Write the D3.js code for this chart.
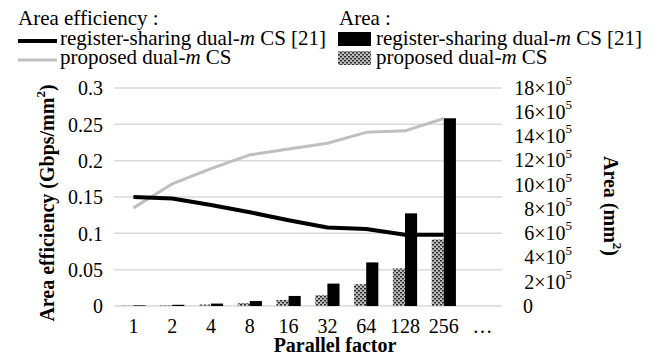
<!DOCTYPE html>
<html>
<head>
<meta charset="utf-8">
<script src="https://cdn.jsdelivr.net/npm/d3@7"></script>
<style>
  body { margin: 0; background: #fff; }
  text, tspan { font-family: "Liberation Serif", "Times New Roman", serif; fill: #000; }
</style>
</head>
<body>
<script>
// data
var categories = ["1", "2", "4", "8", "16", "32", "64", "128", "256", "…"];
var effShared = [0.150, 0.148, 0.139, 0.129, 0.118, 0.108, 0.106, 0.098, 0.098];
var effProposed = [0.135, 0.168, 0.189, 0.208, 0.216, 0.224, 0.239, 0.241, 0.258];
// area in units of 10^5 mm^2
var areaShared = [0.05, 0.1, 0.2, 0.41, 0.83, 1.85, 3.6, 7.65, 15.5];
var areaProposed = [0.03, 0.06, 0.12, 0.25, 0.5, 0.9, 1.8, 3.1, 5.5];
var effTicks = [0, 0.05, 0.1, 0.15, 0.2, 0.25, 0.3];
var areaTicks = [0, 2, 4, 6, 8, 10, 12, 14, 16, 18];

var svg_Width = 664;
var svg_Height = 360;
var plot = { left: 114, right: 502, top: 88, bottom: 306 };

var svg = d3.select("body")
  .append("svg")
  .attr("width", svg_Width)
  .attr("height", svg_Height);

// dotted fill for the proposed bars
var pat = svg.append("defs").append("pattern")
  .attr("id", "dots")
  .attr("patternUnits", "userSpaceOnUse")
  .attr("width", 4)
  .attr("height", 4);
pat.append("rect").attr("width", 4).attr("height", 4).attr("fill", "#bcbcbc");
pat.append("rect").attr("x", 0).attr("y", 0).attr("width", 2).attr("height", 1.5).attr("fill", "#2a2a2a");
pat.append("rect").attr("x", 2).attr("y", 2).attr("width", 2).attr("height", 1.5).attr("fill", "#2a2a2a");

// scales
var x0 = d3.scaleBand()
  .domain(categories)
  .range([plot.left, plot.right]);
var groupW = x0.bandwidth() / 1.6;
var x1 = d3.scaleBand()
  .domain(["proposed", "shared"])
  .range([0, groupW]);
var yEff = d3.scaleLinear().domain([0, 0.3]).range([plot.bottom, plot.top]);
var yArea = d3.scaleLinear().domain([0, 18]).range([plot.bottom, plot.top]);

// gridlines
svg.append("g")
  .selectAll("line")
  .data(effTicks)
  .enter()
  .append("line")
  .attr("x1", plot.left)
  .attr("x2", plot.right)
  .attr("y1", d => yEff(d))
  .attr("y2", d => yEff(d))
  .attr("stroke", "#d9d9d9")
  .attr("stroke-width", 1.5);

// bars
var barData = [];
categories.slice(0, areaShared.length).forEach(function (c, i) {
  barData.push({ cat: c, key: "proposed", v: areaProposed[i] });
  barData.push({ cat: c, key: "shared", v: areaShared[i] });
});
svg.append("g")
  .selectAll("rect")
  .data(barData)
  .enter()
  .append("rect")
  .attr("x", d => x0(d.cat) + (x0.bandwidth() - groupW) / 2 + x1(d.key))
  .attr("width", x1.bandwidth())
  .attr("y", d => yArea(d.v))
  .attr("height", d => yArea(0) - yArea(d.v))
  .attr("fill", d => d.key === "shared" ? "#000" : "url(#dots)");

// lines
var line = d3.line()
  .x((d, i) => x0(categories[i]) + x0.bandwidth() / 2)
  .y(d => yEff(d));
svg.append("path")
  .datum(effProposed)
  .attr("d", line)
  .attr("fill", "none")
  .attr("stroke", "#bfbfbf")
  .attr("stroke-width", 3)
  .attr("stroke-linejoin", "round");
svg.append("path")
  .datum(effShared)
  .attr("d", line)
  .attr("fill", "none")
  .attr("stroke", "#000")
  .attr("stroke-width", 4)
  .attr("stroke-linejoin", "round");

// left axis
var leftAxis = svg.append("g")
  .attr("transform", `translate(${plot.left - 11}, 0)`)
  .call(d3.axisLeft(yEff).tickValues(effTicks).tickSize(0).tickPadding(0).tickFormat(d => String(d)));
leftAxis.select(".domain").remove();
leftAxis.selectAll("text")
  .attr("font-size", 20)
  .attr("font-family", "Liberation Serif")
  .attr("fill", "#000")
  .attr("dy", "0.34em");

// right axis labels (with ×10^5)
var rightLabels = svg.append("g")
  .selectAll("text")
  .data(areaTicks)
  .enter()
  .append("text")
  .attr("y", d => yArea(d))
  .attr("dy", "0.34em")
  .attr("font-size", 20);
rightLabels.filter(d => d === 0)
  .attr("x", 523)
  .attr("text-anchor", "start")
  .text("0");
rightLabels.filter(d => d !== 0)
  .attr("x", 572)
  .attr("text-anchor", "end")
  .each(function (d) {
    var t = d3.select(this);
    t.append("tspan").text(d + "×10");
    t.append("tspan").attr("font-size", 13).attr("dy", "-0.75em").text("5");
  });

// x tick labels
svg.append("g")
  .selectAll("text")
  .data(categories)
  .enter()
  .append("text")
  .attr("x", d => x0(d) + x0.bandwidth() / 2)
  .attr("y", 333)
  .attr("text-anchor", "middle")
  .attr("font-size", 20)
  .text(d => d);

// axis titles
svg.append("text")
  .attr("x", (plot.left + plot.right) / 2 + 27)
  .attr("y", 352)
  .attr("text-anchor", "middle")
  .attr("font-size", 20)
  .attr("font-weight", "bold")
  .text("Parallel factor");

var leftTitle = svg.append("text")
  .attr("transform", "translate(54, 203) rotate(-90)")
  .attr("text-anchor", "middle")
  .attr("font-size", 20)
  .attr("font-weight", "bold");
leftTitle.append("tspan").text("Area efficiency (Gbps/mm");
leftTitle.append("tspan").attr("font-size", 13).attr("dy", "-0.7em").text("2");
leftTitle.append("tspan").attr("dy", "0.45em").text(")");

var rightTitle = svg.append("text")
  .attr("transform", "translate(604, 206) rotate(90)")
  .attr("text-anchor", "middle")
  .attr("font-size", 20)
  .attr("font-weight", "bold");
rightTitle.append("tspan").text("Area (mm");
rightTitle.append("tspan").attr("font-size", 13).attr("dy", "-0.7em").text("2");
rightTitle.append("tspan").attr("dy", "0.45em").text(")");

// legends
function legendLabel(g, x, y, parts) {
  var t = g.append("text").attr("x", x).attr("y", y).attr("font-size", 21);
  parts.forEach(function (p) {
    t.append("tspan").attr("font-style", p[1] ? "italic" : null).text(p[0]);
  });
}
var legend = svg.append("g");
legend.append("text").attr("x", 18).attr("y", 25).attr("font-size", 21).text("Area efficiency :");
legend.append("line").attr("x1", 18).attr("x2", 57).attr("y1", 41).attr("y2", 41)
  .attr("stroke", "#000").attr("stroke-width", 4);
legendLabel(legend, 60, 45, [["register-sharing dual-"], ["m", true], [" CS [21]"]]);
legend.append("line").attr("x1", 18).attr("x2", 57).attr("y1", 60).attr("y2", 60)
  .attr("stroke", "#bfbfbf").attr("stroke-width", 3);
legendLabel(legend, 60, 64, [["proposed dual-"], ["m", true], [" CS"]]);

legend.append("text").attr("x", 339).attr("y", 25).attr("font-size", 21).text("Area :");
legend.append("rect").attr("x", 338).attr("y", 32).attr("width", 33).attr("height", 14).attr("fill", "#000");
legendLabel(legend, 376, 45, [["register-sharing dual-"], ["m", true], [" CS [21]"]]);
legend.append("rect").attr("x", 338).attr("y", 51).attr("width", 33).attr("height", 14).attr("fill", "url(#dots)");
legendLabel(legend, 376, 64, [["proposed dual-"], ["m", true], [" CS"]]);
</script>
</body>
</html>
